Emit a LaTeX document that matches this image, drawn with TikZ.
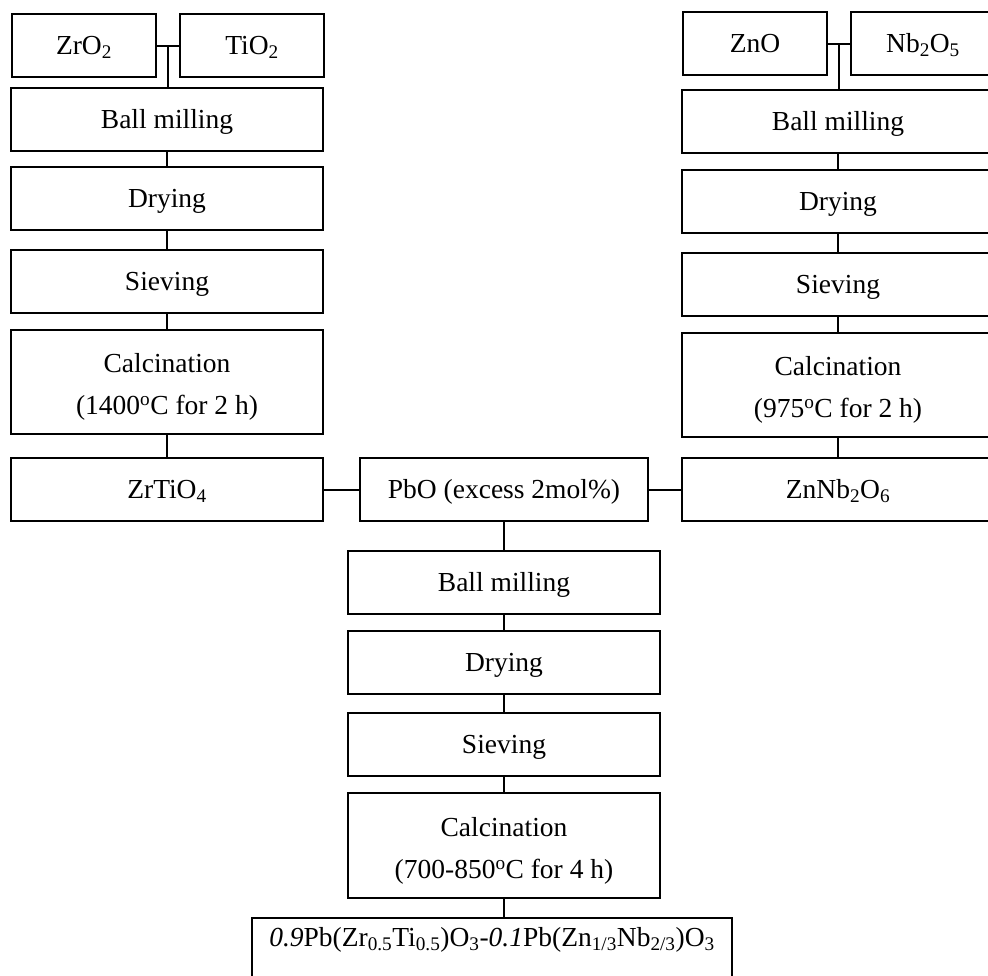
\documentclass[tikz,border=0pt]{standalone}
\usepackage{fontspec}
\setmainfont{Liberation Serif}
\usetikzlibrary {calc}

\begin{document}
\begin{tikzpicture}[x=1pt,y=-1pt,line width=2pt]

	\tikzset{
		proc/.style={draw, inner sep=0pt, minimum width=312pt, minimum height=63pt,
			font=\fontsize{27.5}{42}\selectfont, text height=18.2pt, text depth=0pt},
		half/.style={proc, minimum width=144pt},
		calcbox/.style={draw, inner sep=0pt, minimum width=312pt, minimum height=104pt,
			font=\fontsize{27.5}{42}\selectfont, align=center},
		product/.style={draw, inner xsep=0pt, inner ysep=9pt, minimum width=480pt,
			font=\fontsize{27.5}{42}\selectfont, text height=19pt, text depth=41pt}
	}

	\useasboundingbox (0,0) rectangle (988,975);
	\clip (0,0) rectangle (988,975);

	% left column
	\node[half] (zro) at (84,45.5) {ZrO\textsubscript{2}};
	\node[half] (tio) at (252,45.5) {TiO\textsubscript{2}};
	\foreach \nm/\y/\txt in {bmL/119/Ball milling, dryL/198.5/Drying, sieL/281.5/Sieving}
		\node[proc] (\nm) at (167,\y) {\txt};
	\node[calcbox] (calL) at (167,382) {\rule{0pt}{29pt}Calcination\\(1400\textsuperscript{o}C for 2 h)};
	\node[proc] (zrtio) at (167,489.5) {ZrTiO\textsubscript{4}};

	% right column
	\node[half] (zno) at (755,43.5) {ZnO};
	\node[half] (nbo) at (923,43.5) {Nb\textsubscript{2}O\textsubscript{5}};
	\foreach \nm/\y/\txt in {bmR/121.5/Ball milling, dryR/201.5/Drying, sieR/284/Sieving}
		\node[proc] (\nm) at (838,\y) {\txt};
	\node[calcbox] (calR) at (838,385) {\rule{0pt}{29pt}Calcination\\(975\textsuperscript{o}C for 2 h)};
	\node[proc] (znnb) at (838,489.5) {ZnNb\textsubscript{2}O\textsubscript{6}};

	% centre column
	\node[proc, minimum width=288pt] (pbo) at (504,489.5) {PbO (excess 2mol\%)};
	\foreach \nm/\y/\txt in {bmC/582/Ball milling, dryC/662/Drying, sieC/744.5/Sieving}
		\node[proc] (\nm) at (504,\y) {\txt};
	\node[calcbox, minimum height=105pt] (calC) at (504,845.5) {\rule{0pt}{29pt}Calcination\\(700-850\textsuperscript{o}C for 4 h)};
	\node[product, anchor=north] (fin) at (492,917)
		{\textit{0.9}Pb(Zr\textsubscript{0.5}Ti\textsubscript{0.5})O\textsubscript{3}-\textit{0.1}Pb(Zn\textsubscript{1/3}Nb\textsubscript{2/3})O\textsubscript{3}};

	% joining the raw powders
	\coordinate (jL) at ($(zro.east)!0.5!(tio.west)$);
	\coordinate (jR) at ($(zno.east)!0.5!(nbo.west)$);
	\draw (zro) -- (tio);
	\draw (zno) -- (nbo);
	\draw (jL) -- (jL |- bmL.north);
	\draw (jR) -- (jR |- bmR.north);

	% process steps
	\foreach \a/\b in {bmL/dryL, dryL/sieL, sieL/calL, calL/zrtio,
			bmR/dryR, dryR/sieR, sieR/calR, calR/znnb,
			pbo/bmC, bmC/dryC, dryC/sieC, sieC/calC}
		\draw (\a.south) -- (\b.north);
	\draw (zrtio) -- (pbo);
	\draw (pbo) -- (znnb);
	\draw (calC.south) -- (calC.south |- fin.north);

\end{tikzpicture}
\end{document}
